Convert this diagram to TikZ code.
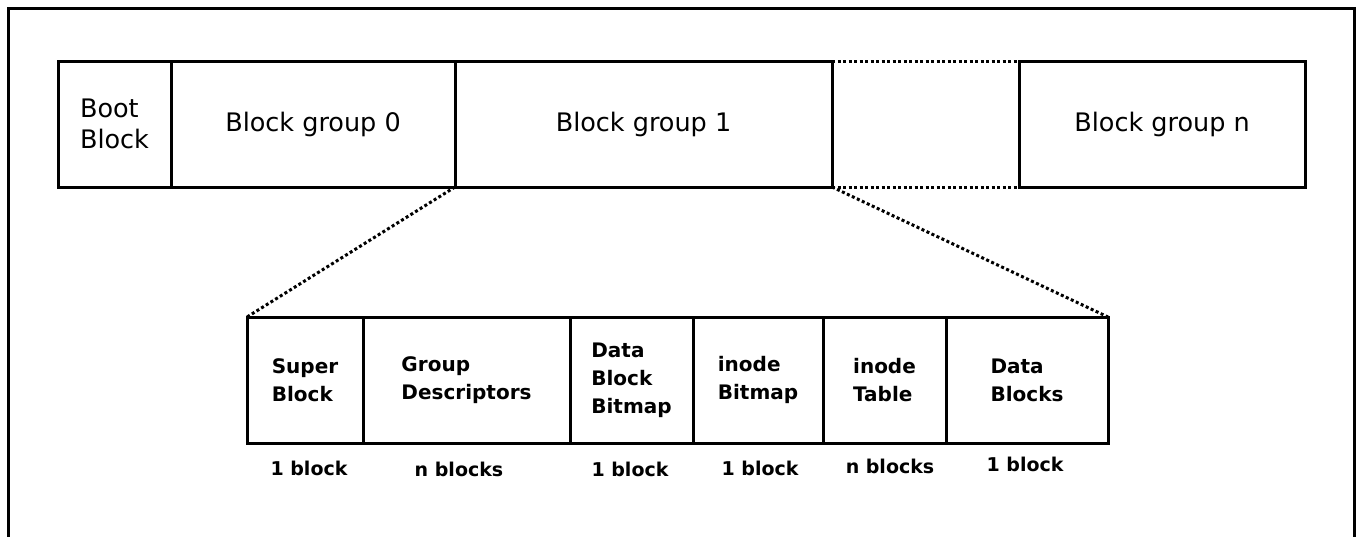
\documentclass[tikz,border=0pt]{standalone}
\usepackage{fontspec}
\setmainfont{DejaVu Sans}
\usetikzlibrary{positioning}

\tikzset{
  blk/.style={draw, line width=3, rectangle, inner sep=0, outer sep=0,
    minimum height=126, align=left},
  grp/.style={blk, font=\fontsize{25.5}{31}\selectfont},
  part/.style={blk, font=\bfseries\fontsize{20}{28}\selectfont},
  size/.style={anchor=base, inner sep=0, font=\bfseries\fontsize{19}{23}\selectfont},
  gap/.style={line width=3, dash pattern=on 3pt off 2.5pt},
}

\begin{document}
\begin{tikzpicture}[x=1pt, y=-1pt]
  \useasboundingbox (0,0) rectangle (1362,536);
  % frame, its lower edge runs off the page
  \draw[line width=3] (8,545) -- (8,8) -- (1354,8) -- (1354,545);

  % disk layout
  \node[grp, minimum width=113] (boot) at (114.5,124) {Boot\\Block};
  \node[grp, minimum width=284, right=0pt of boot] (g0) {Block group 0};
  \node[grp, minimum width=377, right=0pt of g0] (g1) {Block group 1};
  \node[grp, minimum width=286, right=187 of g1] (gn) {Block group n};
  \draw[gap] (g1.north east) -- (gn.north west)
             (g1.south east) -- (gn.south west);

  % one block group
  \node[part, minimum width=116] (sb) at (305,380) {Super\\Block};
  \node[part, minimum width=207, right=0pt of sb] (gd) {Group\\Descriptors};
  \node[part, minimum width=123, right=0pt of gd] (dbb) {Data\\Block\\Bitmap};
  \node[part, minimum width=130, right=0pt of dbb] (ib) {inode\\Bitmap};
  \node[part, minimum width=123, right=0pt of ib] (it) {inode\\Table};
  \node[part, minimum width=162, right=0pt of it] (db) {Data\\Blocks};

  % zoom lines
  \draw[gap] (g1.south west) -- (sb.north west)
             (g1.south east) -- (db.north east);

  % sizes
  \node[size] (sbn) at (309,475) {1 block};
  \node[size] (gdn) at (459,476) {n blocks};
  \node[size] (dbbn) at (630,476) {1 block};
  \node[size] (ibn) at (760,475) {1 block};
  \node[size] (itn) at (890,473) {n blocks};
  \node[size] (dbn) at (1025,471) {1 block};
\end{tikzpicture}
\end{document}
